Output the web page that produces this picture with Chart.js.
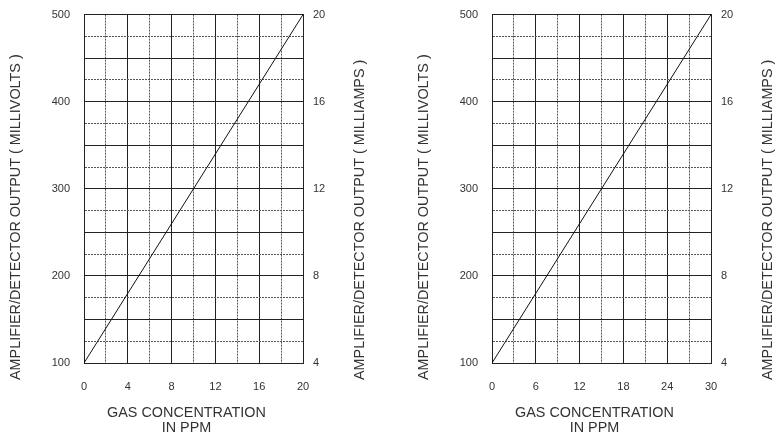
<!DOCTYPE html>
<html>
<head>
<meta charset="utf-8">
<script src="https://cdn.jsdelivr.net/npm/chart.js@4.4.1/dist/chart.umd.min.js"></script>
<style>
  html, body { margin: 0; padding: 0; background: #fff; }
  body { width: 778px; height: 440px; position: relative; overflow: hidden; }
  canvas { position: absolute; top: -6px; }
</style>
</head>
<body>
<canvas id="left" width="370" height="446" style="left:0"></canvas>
<canvas id="right" width="370" height="446" style="left:408px"></canvas>
<script>
// values
const ppmLeft = [0, 4, 8, 12, 16, 20];
const ppmRight = [0, 6, 12, 18, 24, 30];
const millivolts = [100, 180, 260, 340, 420, 500];
const mvRange = [100, 500];
const maRange = [4, 20];
const yLeftTitle = 'AMPLIFIER/DETECTOR OUTPUT ( MILLIVOLTS )';
const yRightTitle = 'AMPLIFIER/DETECTOR OUTPUT ( MILLIAMPS )';
const xTitle = ['GAS CONCENTRATION', 'IN PPM'];

const INK = '#222';
const TEXT = '#333';
const FONT = '"Liberation Sans", Arial, Helvetica, sans-serif';

// axis titles: both vertical ones read bottom to top
const axisTitles = {
  id: 'axisTitles',
  afterDraw(chart) {
    const { ctx, chartArea: a } = chart;
    ctx.save();
    ctx.fillStyle = TEXT;
    ctx.font = '14.4px ' + FONT;
    ctx.textBaseline = 'middle';
    [[a.left - 68, yLeftTitle], [a.right + 57, yRightTitle]].forEach(([x, t]) => {
      ctx.save();
      ctx.translate(x, a.bottom + 17);
      ctx.rotate(-Math.PI / 2);
      ctx.textAlign = 'left';
      ctx.fillText(t, 0, 0);
      ctx.restore();
    });
    ctx.textAlign = 'center';
    const cx = (a.left + a.right) / 2 - 7;
    xTitle.forEach((t, i) => ctx.fillText(t, cx, a.bottom + 50 + i * 15));
    ctx.restore();
  }
};

function makeChart(id, ppm, xStep) {
  const tickFont = { size: 11, family: FONT };
  const xMajor = v => v % (2 * xStep) === 0;
  const yMajor = v => v % 50 === 0;
  return new Chart(document.getElementById(id), {
    type: 'line',
    data: {
      datasets: [{
        data: ppm.map((x, i) => ({ x: x, y: millivolts[i] })),
        borderColor: '#111',
        borderWidth: 1,
        pointRadius: 0,
        tension: 0,
        yAxisID: 'y'
      }]
    },
    options: {
      responsive: false,
      animation: false,
      layout: { padding: { top: 8 } },
      plugins: { legend: { display: false }, tooltip: { enabled: false } },
      scales: {
        x: {
          type: 'linear',
          min: ppm[0],
          max: ppm[ppm.length - 1],
          afterFit: s => { s.height = 77; },
          ticks: {
            stepSize: xStep, autoSkip: false, maxRotation: 0, padding: 17,
            color: TEXT, font: tickFont,
            callback: v => xMajor(v) ? v : ''
          },
          grid: {
            drawTicks: false, lineWidth: 1,
            color: c => c.tick && !xMajor(c.tick.value) ? '#555' : INK
          },
          border: { color: INK, width: 1, dash: c => c.tick && !xMajor(c.tick.value) ? [2, 1] : [] }
        },
        y: {
          position: 'left',
          min: mvRange[0],
          max: mvRange[1],
          afterFit: s => { s.width = 84; },
          ticks: {
            stepSize: 25, autoSkip: false, padding: 14,
            color: TEXT, font: tickFont,
            callback: v => v % 100 === 0 ? v : ''
          },
          grid: {
            drawTicks: false, lineWidth: 1,
            color: c => c.tick && !yMajor(c.tick.value) ? '#555' : INK
          },
          border: { color: INK, width: 1, dash: c => c.tick && !yMajor(c.tick.value) ? [2, 1] : [] }
        },
        y2: {
          position: 'right',
          min: maRange[0],
          max: maRange[1],
          afterFit: s => { s.width = 67; },
          ticks: { stepSize: 4, padding: 10, crossAlign: 'near', color: TEXT, font: tickFont },
          grid: { drawOnChartArea: false, drawTicks: false },
          border: { color: INK, width: 1 }
        }
      }
    },
    plugins: [axisTitles]
  });
}

makeChart('left', ppmLeft, 2);
makeChart('right', ppmRight, 3);
</script>
</body>
</html>
